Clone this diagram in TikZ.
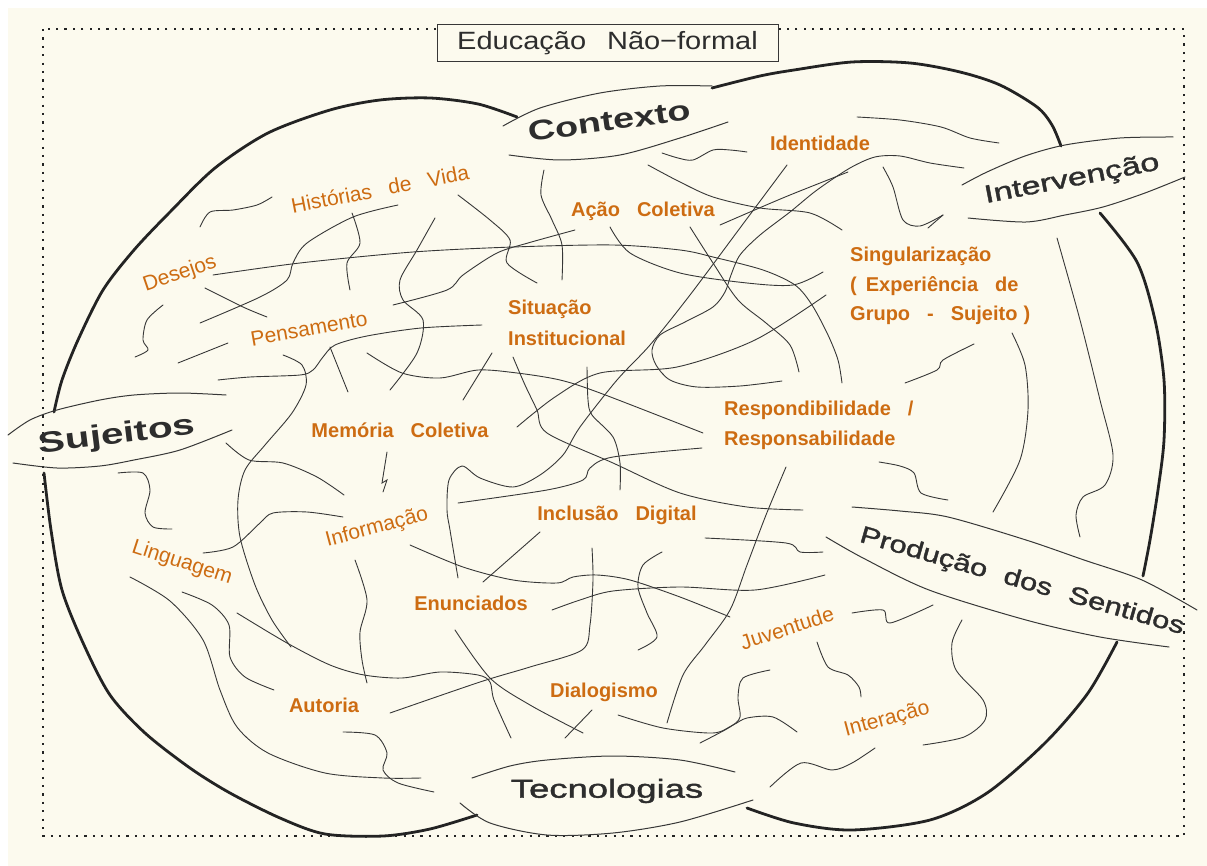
\documentclass[tikz,border=0pt]{standalone}
\usepackage{fontspec}
\usepackage{graphicx}
\setmainfont{Liberation Sans}
\newfontfamily\medfont[FakeBold=1.3]{Liberation Sans}
\definecolor{cream}{RGB}{252,250,238}
\definecolor{org}{RGB}{205,108,18}
\definecolor{lng}{RGB}{55,55,55}
\definecolor{blobc}{RGB}{35,35,35}
\definecolor{dtext}{RGB}{45,45,45}
\newcommand{\wsp}{\hspace*{17pt}}
\tikzset{
  thinln/.style={draw=lng, line width=0.9pt, line cap=round},
  blobln/.style={draw=blobc, line width=2.8pt, line cap=round},
  lensln/.style={draw=lng, line width=1pt, line cap=round},
  dotborder/.style={draw=blobc, line width=2.2pt, dash pattern=on 2.2pt off 6.2pt},
  olab/.style={text=org, inner sep=0pt, font=\fontsize{20}{24}\selectfont\bfseries},
  olabr/.style={text=org, inner sep=0pt, font=\fontsize{21}{25}\selectfont},
  dlab/.style={text=dtext, inner sep=0pt, font=\fontsize{28}{32}\selectfont\bfseries},
  titlebox/.style={draw=lng, line width=1pt, fill=cream, inner sep=0pt, minimum width=341pt, minimum height=37pt, text=dtext, font=\fontsize{25}{28}\selectfont}
}
\begin{document}
\begin{tikzpicture}[x=1pt,y=-1pt]
\useasboundingbox (0,0) rectangle (1207,866);
\fill[white] (0,0) rectangle (1207,866);
\fill[cream] (8,8) rectangle (1207,866);
\draw[dotborder] (43,29) rectangle (1184,836);
\node[titlebox] (title) at (607.5,43.5) {\scalebox{1.16}[1]{Educação\hspace*{18pt}Não−formal}};

% blob outline
\draw[blobln] plot[smooth] coordinates {(517,117) (478,104) (430,98) (380,100) (330,110) (268,133) (215,168) (170,212) (134,250) (103,290) (78,340) (62,380) (54,412)};
\draw[blobln] plot[smooth] coordinates {(44,473) (51,530) (62,590) (84,645) (110,695) (145,733) (190,768) (230,793) (280,818) (325,834) (383,836) (430,829) (477,815)};
\draw[blobln] plot[smooth] coordinates {(712,88) (760,76) (794,70) (852,62) (910,63) (960,72) (1000,85) (1037,107) (1052,125) (1061,146)};
\draw[blobln] plot[smooth] coordinates {(1100,213) (1137,262) (1155,320) (1164,380) (1164,440) (1158,490) (1150,540) (1143,576)};
\draw[blobln] plot[smooth] coordinates {(1117,642) (1088,693) (1045,743) (987,793) (930,820) (852,830) (794,823) (747,808)};

% lenses
\draw[lensln] plot[smooth] coordinates {(503,126) (540,108) (600,93) (660,86) (712,86)};
\draw[lensln] plot[smooth] coordinates {(509,155) (560,160) (620,155) (680,138) (728,122)};
\draw[lensln] plot[smooth] coordinates {(962,185) (987,172) (1025,156) (1065,145) (1120,138) (1173,137)};
\draw[lensln] plot[smooth] coordinates {(968,218) (1026,222) (1065,215) (1103,207) (1145,193) (1185,177)};
\draw[lensln] plot[smooth] coordinates {(8,435) (30,420) (57,410) (100,400) (134,395) (180,393) (226,395)};
\draw[lensln] plot[smooth] coordinates {(13,463) (57,468) (100,466) (134,460) (180,450) (232,430)};
\draw[lensln] plot[smooth] coordinates {(472,778) (510,766) (547,760) (613,756) (680,760) (735,772)};
\draw[lensln] plot[smooth] coordinates {(460,803) (490,823) (547,835) (613,833) (680,822) (753,800)};
\draw[lensln] plot[smooth] coordinates {(852,507) (900,511) (948,517) (1026,540) (1084,560) (1142,580) (1197,610)};
\draw[lensln] plot[smooth] coordinates {(826,537) (863,558) (929,590) (1026,620) (1100,637) (1169,647)};

% thin lines
\draw[thinln] plot[smooth] coordinates {(272,197) (257,205) (233,210) (210,212) (200,227)};
\draw[thinln] plot[smooth] coordinates {(398,205) (353,217) (307,243) (293,263) (287,280) (260,297) (200,323)};
\draw[thinln] plot[smooth] coordinates {(352,213) (360,243) (347,263) (350,290)};
\draw[thinln] plot[smooth] coordinates {(435,218) (417,250) (400,280) (403,300) (423,320) (417,353) (390,390)};
\draw[thinln] plot[smooth] coordinates {(458,195) (490,220) (510,240) (507,263) (537,283)};
\draw[thinln] plot[smooth] coordinates {(575,230) (528,243) (497,253) (463,275) (447,290) (393,305)};
\draw[thinln] plot[smooth] coordinates {(544,170) (541,195) (552,220) (562,245) (562,280)};
\draw[thinln] plot[smooth] coordinates {(213,275) (300,263) (413,252) (513,247) (613,245) (680,250) (713,257) (763,270) (795,285) (812,305) (828,335) (838,360) (842,383)};
\draw[thinln] plot[smooth] coordinates {(648,165) (680,182) (713,197) (760,208) (810,213) (842,230)};
\draw[thinln] plot[smooth] coordinates {(662,153) (678,158) (693,160) (713,150) (730,150) (747,152)};
\draw[thinln] plot[smooth] coordinates {(787,165) (740,228) (690,295) (650,345) (617,380) (580,427) (563,455) (540,475) (513,487) (480,478) (462,466) (449,480) (447,510) (450,530) (458,578)};
\draw[thinln] plot[smooth] coordinates {(848,172) (790,195) (750,212) (720,225)};
\draw[thinln] plot[smooth] coordinates {(964,168) (930,163) (900,156) (875,157) (850,168) (817,190) (790,212) (760,235) (740,255) (731,275) (725,292) (713,307) (685,322) (660,335) (652,350) (656,365) (670,380) (697,387) (740,386) (782,381)};
\draw[thinln] plot[smooth] coordinates {(883,167) (893,187) (903,220) (920,226) (943,215)};
\draw[thinln] (928,228) -- (943,215);
\draw[thinln] plot[smooth] coordinates {(857,117) (900,120) (941,127) (970,138) (999,143)};
\draw[thinln] plot[smooth] coordinates {(610,227) (630,253) (680,273) (747,283) (793,285) (823,272)};
\draw[thinln] plot[smooth] coordinates {(690,227) (713,263) (738,300) (766,323) (790,345) (799,372)};
\draw[thinln] plot[smooth] coordinates {(517,427) (555,397) (600,373) (677,367) (755,340) (826,295)};
\draw[thinln] plot[smooth] coordinates {(905,383) (937,370) (943,360) (974,344)};
\draw[thinln] plot[smooth] coordinates {(1012,333) (1025,365) (1028,410) (1020,460) (993,512)};
\draw[thinln] plot[smooth] coordinates {(1057,238) (1080,320) (1100,400) (1113,455) (1105,485) (1083,497) (1076,515) (1080,537)};
\draw[thinln] plot[smooth] coordinates {(879,462) (900,466) (914,473) (921,493) (948,500)};
\draw[thinln] plot[smooth] coordinates {(367,353) (402,373) (440,378) (478,370) (517,373) (560,380) (600,393) (703,433)};
\draw[thinln] plot[smooth] coordinates {(458,503) (547,490) (583,480) (590,468) (613,457) (702,448)};
\draw[thinln] plot[smooth] coordinates {(587,367) (588,400) (592,415) (613,437) (620,463) (620,490)};
\draw[thinln] plot[smooth] coordinates {(513,357) (525,385) (537,410) (547,433) (613,463) (680,493) (747,507) (803,510)};
\draw[thinln] (492,353) -- (463,400);
\draw[thinln] (387,452) -- (382,483) -- (387,480) -- (383,492);
\draw[thinln] plot[smooth] coordinates {(410,545) (463,567) (513,580) (557,583) (573,577) (597,575) (630,580) (680,597) (730,617)};
\draw[thinln] (540,532) -- (483,582);
\draw[thinln] plot[smooth] coordinates {(592,548) (593,580) (590,625) (582,650) (530,667) (480,682) (390,713)};
\draw[thinln] plot[smooth] coordinates {(552,610) (580,600) (613,591) (680,587) (755,590) (825,575)};
\draw[thinln] plot[smooth] coordinates {(662,552) (643,565) (638,587) (647,613) (657,637) (638,650)};
\draw[thinln] plot[smooth] coordinates {(705,538) (786,543) (800,552) (823,552)};
\draw[thinln] plot[smooth] coordinates {(786,467) (766,515) (747,565) (730,610) (705,645) (683,675) (667,723)};
\draw[thinln] plot[smooth] coordinates {(455,630) (490,678) (530,705) (583,733)};
\draw[thinln] (565,738) -- (592,710);
\draw[thinln] plot[smooth] coordinates {(237,613) (287,643) (330,665) (364,675) (402,678) (440,672) (478,675) (490,682) (494,700) (511,738)};
\draw[thinln] plot[smooth] coordinates {(355,560) (367,600) (360,632) (362,660) (367,683)};
\draw[thinln] plot[smooth] coordinates {(283,355) (302,365) (306,385) (292,413) (265,445) (245,470) (238,500) (240,537) (255,585) (272,620) (291,647)};
\draw[thinln] plot[smooth] coordinates {(226,443) (249,460) (283,463) (317,477) (344,495)};
\draw[thinln] plot[smooth] coordinates {(203,553) (233,547) (260,523) (273,513) (307,512) (343,517)};
\draw[thinln] plot[smooth] coordinates {(118,473) (143,473) (150,490) (145,513) (153,527) (172,529)};
\draw[thinln] plot[smooth] coordinates {(130,577) (170,601) (203,640) (220,690) (237,727) (268,753) (325,773) (383,778) (421,778)};
\draw[thinln] plot[smooth] coordinates {(182,592) (212,605) (229,625) (230,657) (245,677) (274,690)};
\draw[thinln] plot[smooth] coordinates {(343,732) (375,735) (387,753) (383,770) (398,783) (434,792)};
\draw[thinln] plot[smooth] coordinates {(618,715) (663,728) (713,733) (733,725) (747,718) (773,717) (797,732)};
\draw[thinln] plot[smooth] coordinates {(770,670) (743,678) (738,697) (740,717) (730,727) (700,743)};
\draw[thinln] plot[smooth] coordinates {(817,642) (828,667) (848,675) (859,687) (861,697)};
\draw[thinln] plot[smooth] coordinates {(852,613) (883,610) (890,623) (933,605)};
\draw[thinln] plot[smooth] coordinates {(962,620) (952,643) (956,670) (983,700) (985,720) (964,737) (923,745)};
\draw[thinln] plot[smooth] coordinates {(875,748) (852,763) (832,770) (801,763) (770,787)};
\draw[thinln] plot[smooth] coordinates {(205,288) (243,307) (267,317)};
\draw[thinln] plot[smooth] coordinates {(163,305) (147,320) (143,340) (148,350) (135,357)};
\draw[thinln] (228,343) -- (178,363);
\draw[thinln] plot[smooth] coordinates {(218,380) (250,377) (300,375) (313,370) (323,357) (335,345) (367,336) (421,328) (482,325)};
\draw[thinln] (330,347) -- (348,392);

% dark labels
\node[dlab, rotate=8] (contexto) at (609,121) {\scalebox{1.35}[1]{Contexto}};
\node[dlab, rotate=11, font=\fontsize{25}{28}\selectfont\medfont] (interv) at (1072,180) {\scalebox{1.36}[1]{Intervenção}};
\node[dlab, rotate=7, font=\fontsize{29}{32}\selectfont\bfseries] (sujeitos) at (117,436) {\scalebox{1.4}[1]{Sujeitos}};
\node[dlab, font=\fontsize{26}{29}\selectfont\medfont] (tecno) at (607,791) {\scalebox{1.4}[1]{Tecnologias}};
\node[dlab, rotate=-16, font=\fontsize{24}{28}\selectfont\medfont] (producao) at (1022,582) {\scalebox{1.28}[1]{Produção\hspace*{14pt}dos\hspace*{14pt}Sentidos}};

% orange labels
\node[olabr, rotate=11] (hist) at (380,189) {Histórias\wsp de\wsp Vida};
\node[olabr, rotate=19] (desejos) at (180,274) {Desejos};
\node[olabr, rotate=10] (pens) at (309,329) {Pensamento};
\node[olabr, rotate=15] (info) at (377,528) {Informação};
\node[olabr, rotate=-18] (ling) at (182,563) {Linguagem};
\node[olabr, rotate=18] (juv) at (787,628) {Juventude};
\node[olabr, rotate=15] (inter) at (887,720) {Interação};
\node[olab, anchor=base] (acao) at (643,217) {Ação\wsp Coletiva};
\node[olab, anchor=base] (ident) at (820,151) {Identidade};
\node[olab, anchor=base west] (sing1) at (850,262) {Singularização};
\node[olab, anchor=base west] (sing2) at (850,292) {(\hspace*{9pt}Experiência\wsp de};
\node[olab, anchor=base west] (sing3) at (850,321) {Grupo\wsp -\wsp Sujeito\hspace*{6pt})};
\node[olab, anchor=base west] (sit1) at (508,315) {Situação};
\node[olab, anchor=base west] (sit2) at (508,345) {Institucional};
\node[olab, anchor=base] (memoria) at (400,437) {Memória\wsp Coletiva};
\node[olab, anchor=base west] (resp1) at (724,415) {Respondibilidade\wsp /};
\node[olab, anchor=base west] (resp2) at (724,445) {Responsabilidade};
\node[olab, anchor=base] (inclusao) at (617,520) {Inclusão\wsp Digital};
\node[olab, anchor=base] (enunc) at (471,610) {Enunciados};
\node[olab, anchor=base] (dialog) at (604,697) {Dialogismo};
\node[olab, anchor=base] (autoria) at (324,712) {Autoria};
\end{tikzpicture}
\end{document}
